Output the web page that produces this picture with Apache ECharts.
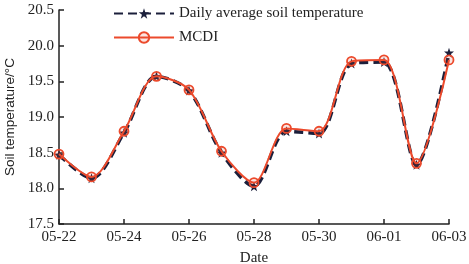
<!DOCTYPE html>
<html>
<head>
<meta charset="utf-8">
<script src="https://cdn.jsdelivr.net/npm/echarts@6/dist/echarts.min.js"></script>
<style>
	html, body { margin: 0; padding: 0; background: #fff; }
	#chart { width: 469px; height: 264px; }
</style>
</head>
<body>
<div id="chart"></div>
<script>
// 日期
const dates = ["05-22", "05-23", "05-24", "05-25", "05-26", "05-27", "05-28", "05-29", "05-30", "05-31", "06-01", "06-02", "06-03"];
// 日平均土壤温度
const dailyAvg = [18.47, 18.14, 18.78, 19.57, 19.37, 18.5, 18.03, 18.8, 18.77, 19.75, 19.77, 18.33, 19.9];
// MCDI
const mcdi = [18.48, 18.16, 18.8, 19.57, 19.38, 18.52, 18.08, 18.84, 18.8, 19.78, 19.8, 18.35, 19.8];
const yTicks = [17.5, 18.0, 18.5, 19.0, 19.5, 20.0, 20.5];

const font = "Liberation Serif";
const starPath = "path://M0,-10L2.35,-3.24L9.51,-3.09L3.8,1.24L5.88,8.09L0,4L-5.88,8.09L-3.8,1.24L-9.51,-3.09L-2.35,-3.24Z";

const chart = echarts.init(document.getElementById("chart"), null, { renderer: "canvas" });

const option = {
	animation: false,
	grid: {
		left: 59,
		right: 20,
		top: 10,
		bottom: 40,
		outerBoundsMode: "none",
		containLabel: false,
	},
	legend: {
		orient: "vertical",
		left: 108,
		top: 1,
		itemWidth: 60,
		itemHeight: 13,
		itemGap: 9,
		textStyle: {
			fontFamily: font,
			fontSize: 15,
			color: "#222",
		},
		data: ["Daily average soil temperature", "MCDI"],
	},
	xAxis: {
		type: "category",
		boundaryGap: false,
		data: dates,
		name: "Date",
		nameLocation: "middle",
		nameGap: 27,
		nameTextStyle: { fontFamily: font, fontSize: 15, color: "#222" },
		axisLine: { lineStyle: { color: "#222", width: 1.5 } },
		axisTick: { inside: true, length: 5, interval: 1, lineStyle: { color: "#222", width: 1.5 } },
		axisLabel: { interval: 1, fontFamily: font, fontSize: 15, color: "#222", margin: 6 },
		splitLine: { show: false },
	},
	yAxis: {
		type: "value",
		min: yTicks[0],
		max: yTicks[yTicks.length - 1],
		interval: 0.5,
		name: "Soil temperature/°C",
		nameLocation: "middle",
		nameGap: 32,
		nameTextStyle: { fontFamily: "Liberation Sans", fontSize: 13.5, color: "#222" },
		axisLine: { show: true, lineStyle: { color: "#222", width: 1.5 } },
		axisTick: { show: true, inside: true, length: 5, lineStyle: { color: "#222", width: 1.5 } },
		axisLabel: {
			fontFamily: font,
			fontSize: 15,
			color: "#222",
			margin: 5,
			formatter: (v) => v.toFixed(1),
		},
		splitLine: { show: false },
	},
	series: [
		{
			name: "Daily average soil temperature",
			type: "line",
			smooth: 0.3,
			data: dailyAvg,
			symbol: starPath,
			symbolSize: 10,
			itemStyle: { color: "#1b1f3b" },
			lineStyle: { color: "#1b1f3b", width: 3.5, type: [9, 5] },
			z: 2,
		},
		{
			name: "MCDI",
			type: "line",
			smooth: 0.3,
			data: mcdi,
			symbol: "circle",
			symbolSize: 9,
			itemStyle: { color: "rgba(236,74,44,0.15)", borderColor: "#ec4a2c", borderWidth: 1.8 },
			lineStyle: { color: "#ec4a2c", width: 2 },
			z: 3,
		},
	],
};

chart.setOption(option);
</script>
</body>
</html>
